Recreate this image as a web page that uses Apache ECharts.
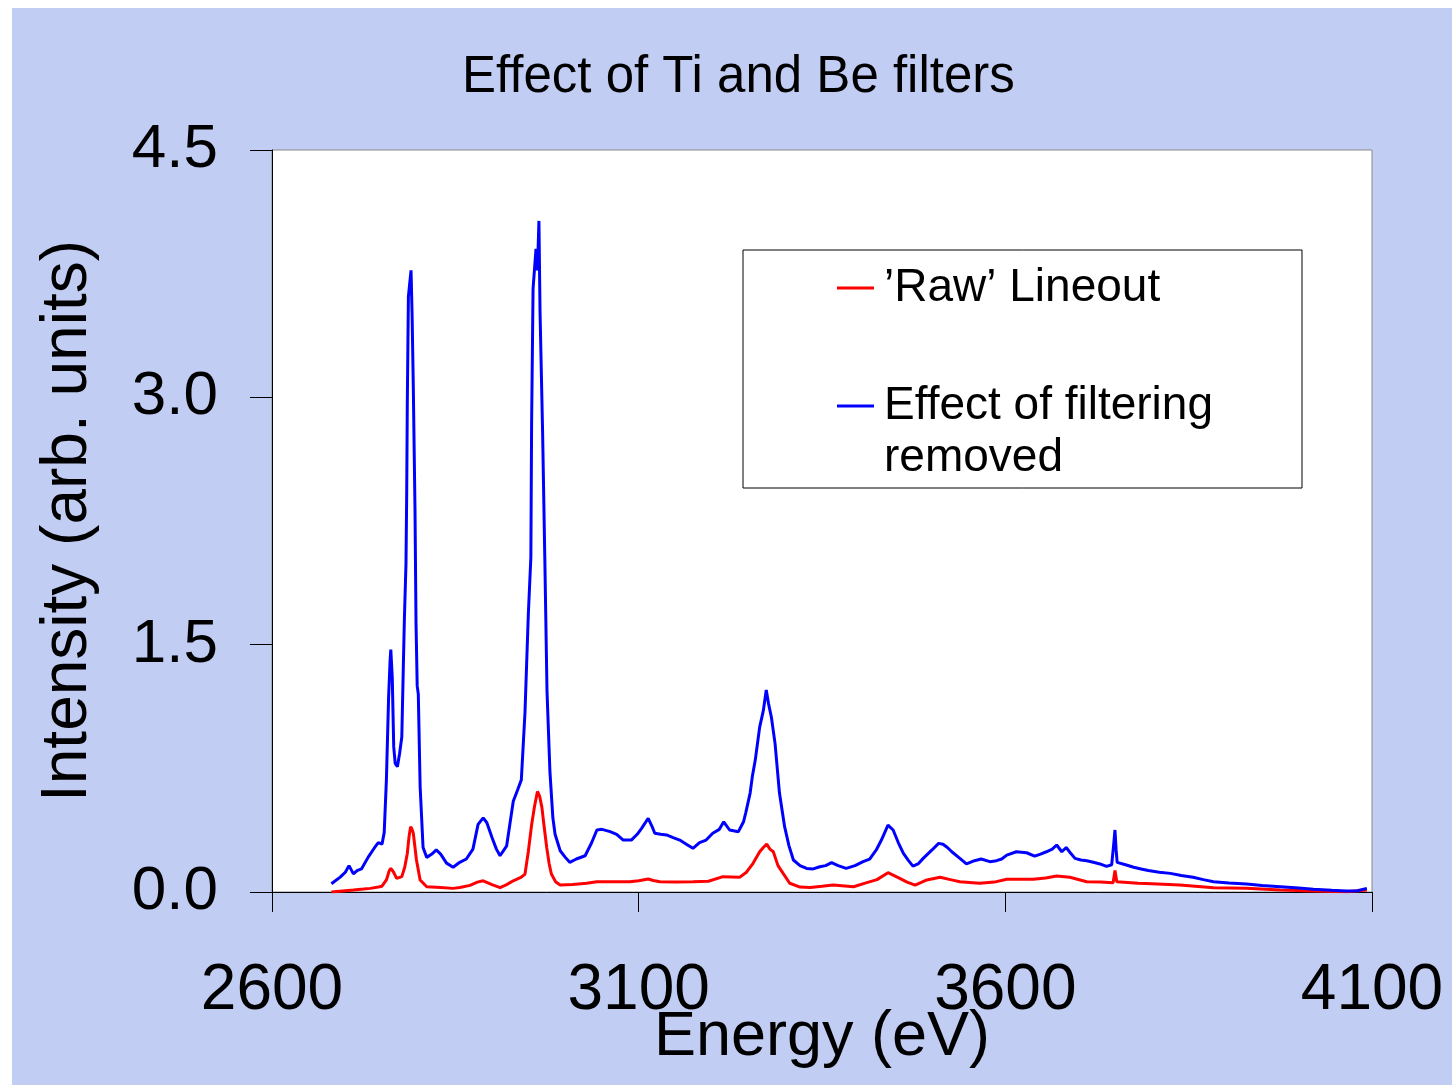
<!DOCTYPE html>
<html>
<head>
<meta charset="utf-8">
<script src="https://cdn.jsdelivr.net/npm/echarts@6/dist/echarts.min.js"></script>
<style>
html,body{margin:0;padding:0;background:#fff;}
#chart{width:1452px;height:1085px;}
</style>
</head>
<body>
<div id="chart"></div>
<script>
// ---- data ----
const chartTitle = "Effect of Ti and Be filters";
const seriesNames = ["\u2019Raw\u2019 Lineout", "Effect of filtering removed"];
const xTicks = [2600, 3100, 3600, 4100];
const yTicks = [0.0, 1.5, 3.0, 4.5];

const blueEnergy = [2681,2693,2700,2705,2711,2716,2722,2731,2740,2745,2750,2753,2756,2759,2761,2762,2764,2766,2768,2771,2774,2777,2779,2780.5,2782.7,2783.7,2784.5,2786,2788,2789.6,2791,2792.7,2795,2796.4,2798,2799.5,2802,2806,2811,2818,2824,2830,2838,2847,2856,2865,2874,2881,2888,2893,2900,2906,2911,2920,2929,2935,2940,2945,2949.5,2953,2954,2956,2960,2962,2964,2965.5,2969,2972,2975,2979,2983,2986,2993,3000,3006,3015,3027,3036,3043,3050,3061,3070,3079,3090,3098,3104,3113,3118,3122,3130,3138,3147,3156,3165,3174,3183,3192,3201,3210,3216,3224,3236,3243,3246,3252,3255,3259,3265,3270,3274,3277,3281,3286,3292,3299,3305,3311,3320,3329,3338,3347,3355,3363,3372,3383,3395,3406,3415,3424,3431,3440,3447,3454,3461,3468,3474,3481,3488,3500,3509,3515,3521,3527,3538,3547,3558,3567,3579,3588,3595,3602,3615,3629,3640,3648,3656,3664,3670,3677,3683,3690,3695,3703,3711,3720,3729,3738,3745,3748,3749.5,3751,3752.5,3765,3775,3785,3795,3810,3825,3840,3856,3870,3884,3905,3929,3950,3975,4000,4020,4045,4065,4080,4093];
const blueIntensity = [0.05,0.09,0.12,0.16,0.11,0.13,0.14,0.21,0.27,0.30,0.29,0.36,0.68,1.18,1.40,1.47,1.30,0.88,0.78,0.76,0.84,0.94,1.35,1.65,1.99,2.42,2.96,3.61,3.70,3.77,3.51,3.06,2.32,1.63,1.25,1.20,0.64,0.27,0.21,0.23,0.255,0.23,0.175,0.15,0.18,0.20,0.26,0.41,0.45,0.42,0.33,0.26,0.22,0.28,0.55,0.62,0.68,1.09,1.68,2.03,2.84,3.66,3.90,3.77,4.07,3.52,2.79,2.03,1.22,0.73,0.45,0.35,0.25,0.21,0.18,0.20,0.22,0.30,0.376,0.38,0.366,0.35,0.315,0.315,0.35,0.386,0.447,0.40,0.356,0.35,0.346,0.33,0.315,0.29,0.265,0.30,0.315,0.356,0.38,0.426,0.376,0.366,0.426,0.48,0.60,0.70,0.80,1.00,1.10,1.225,1.144,1.06,0.90,0.60,0.396,0.28,0.194,0.16,0.143,0.14,0.153,0.16,0.178,0.16,0.143,0.16,0.184,0.20,0.255,0.315,0.406,0.376,0.30,0.234,0.19,0.157,0.17,0.204,0.255,0.295,0.29,0.27,0.244,0.204,0.17,0.19,0.20,0.184,0.19,0.20,0.224,0.244,0.238,0.218,0.23,0.244,0.26,0.285,0.244,0.27,0.23,0.204,0.194,0.19,0.18,0.17,0.155,0.165,0.30,0.376,0.26,0.18,0.164,0.15,0.14,0.13,0.12,0.113,0.10,0.089,0.075,0.062,0.055,0.049,0.04,0.032,0.024,0.016,0.01,0.006,0.008,0.022];

const redEnergy = [2681,2700,2711,2725,2734,2745,2750,2756,2760,2762,2765.5,2770,2777,2781,2784.5,2787,2789,2791,2792.7,2797,2802,2811,2830,2847,2856,2870,2880,2888,2900,2911,2920,2929,2940,2945,2949.5,2954,2958,2962,2965,2968,2971,2974.6,2978,2981,2987,2993,3010,3029,3043,3060,3088,3100,3113,3120,3129,3150,3174,3195,3215,3238,3247,3256,3265,3270,3274.6,3279,3283.6,3290,3297,3306,3320,3334,3350,3365,3393,3410,3425,3440,3456,3466,3477,3493,3511,3525,3538,3565,3585,3602,3638,3655,3670,3688,3711,3730,3747,3749.5,3752,3781,3800,3838,3884,3929,3975,4020,4065,4093];
const redIntensity = [0.0,0.008,0.012,0.018,0.022,0.03,0.035,0.073,0.13,0.143,0.123,0.083,0.093,0.15,0.234,0.34,0.396,0.38,0.356,0.194,0.073,0.032,0.028,0.022,0.027,0.04,0.06,0.068,0.045,0.027,0.045,0.068,0.09,0.109,0.244,0.406,0.52,0.61,0.58,0.515,0.40,0.27,0.17,0.109,0.06,0.042,0.045,0.053,0.062,0.062,0.062,0.068,0.079,0.07,0.062,0.06,0.062,0.065,0.093,0.09,0.12,0.174,0.244,0.27,0.29,0.26,0.244,0.16,0.113,0.053,0.03,0.028,0.035,0.042,0.032,0.055,0.075,0.117,0.083,0.06,0.042,0.073,0.089,0.075,0.062,0.053,0.06,0.077,0.077,0.085,0.097,0.089,0.062,0.06,0.056,0.13,0.062,0.053,0.05,0.042,0.026,0.022,0.012,0.006,0.002,0.012];

// ---- build ----
const zip = (xs, ys) => xs.map((x, i) => [x, ys[i]]);
const FONT = '"Liberation Sans", Arial, Helvetica, sans-serif';

const chart = echarts.init(document.getElementById('chart'), null, {renderer: 'canvas'});
const option = {
  backgroundColor: '#ffffff',
  animation: false,
  graphic: [{
    type: 'rect', z: -10, silent: true,
    shape: {x: 12, y: 8, width: 1440, height: 1077},
    style: {fill: '#c2cdf3'}
  }],
  title: {
    text: chartTitle,
    left: 457, top: 47,
    textStyle: {fontFamily: FONT, fontSize: 51, fontWeight: 'normal', color: '#000'}
  },
  legend: {
    orient: 'vertical',
    left: 743, top: 250,
    backgroundColor: '#ffffff',
    borderColor: '#000', borderWidth: 1,
    padding: [12, 89, 4, 94],
    itemGap: 14,
    itemWidth: 37, itemHeight: 3,
    icon: 'rect',
    data: seriesNames,
    formatter: function (name) {
      return name === seriesNames[1] ? '\nEffect of filtering\nremoved' : name;
    },
    textStyle: {fontFamily: FONT, fontSize: 46, color: '#000', lineHeight: 52, padding: [0, 0, 0, 5]}
  },
  grid: {left: 272, top: 150, width: 1100, height: 742, outerBoundsMode: 'none', containLabel: false,
    show: true, backgroundColor: '#ffffff', borderColor: '#888', borderWidth: 1},
  xAxis: {
    type: 'value', min: 2600, max: 4100, interval: 500,
    name: 'Energy (eV)', nameLocation: 'middle', nameGap: 114, nameMoveOverlap: false,
    nameTextStyle: {fontFamily: FONT, fontSize: 63, color: '#000'},
    axisLine: {show: true, lineStyle: {color: '#000', width: 1}},
    axisTick: {show: true, inside: false, length: 20, lineStyle: {color: '#000'}},
    axisLabel: {fontFamily: FONT, fontSize: 64, color: '#000', margin: 67,
      formatter: v => xTicks.includes(v) ? String(v) : ''},
    splitLine: {show: false}
  },
  yAxis: {
    type: 'value', min: 0, max: 4.5, interval: 1.5,
    name: 'Intensity (arb. units)', nameLocation: 'middle', nameGap: 172, nameRotate: 90, nameMoveOverlap: false,
    nameTextStyle: {fontFamily: FONT, fontSize: 64, color: '#000'},
    axisLine: {show: true, lineStyle: {color: '#000', width: 1}},
    axisTick: {show: true, inside: false, length: 22, lineStyle: {color: '#000'}},
    axisLabel: {fontFamily: FONT, fontSize: 62, color: '#000', margin: 54,
      formatter: v => yTicks.includes(v) ? v.toFixed(1) : ''},
    splitLine: {show: false}
  },
  series: [
    {name: seriesNames[0], type: 'line', data: zip(redEnergy, redIntensity), showSymbol: false, symbol: 'none',
      lineStyle: {color: '#ff0000', width: 3}, itemStyle: {color: '#ff0000'}, z: 2},
    {name: seriesNames[1], type: 'line', data: zip(blueEnergy, blueIntensity), showSymbol: false, symbol: 'none',
      lineStyle: {color: '#0000ff', width: 3}, itemStyle: {color: '#0000ff'}, z: 3}
  ]
};
chart.setOption(option);
</script>
</body>
</html>
